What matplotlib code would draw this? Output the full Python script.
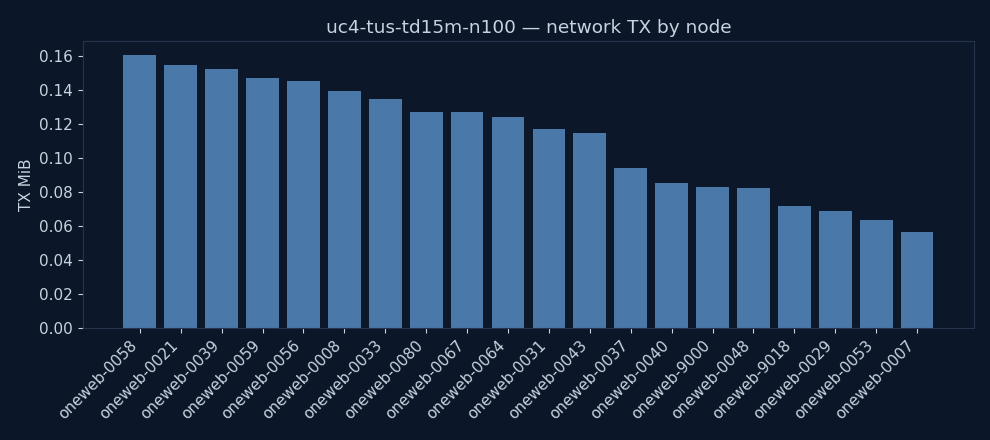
import matplotlib
matplotlib.use('Agg')
import matplotlib.pyplot as plt

nodes = ['oneweb-0058', 'oneweb-0021', 'oneweb-0039', 'oneweb-0059', 'oneweb-0056',
         'oneweb-0008', 'oneweb-0033', 'oneweb-0080', 'oneweb-0067', 'oneweb-0064',
         'oneweb-0031', 'oneweb-0043', 'oneweb-0037', 'oneweb-0040', 'oneweb-9000',
         'oneweb-0048', 'oneweb-9018', 'oneweb-0029', 'oneweb-0053', 'oneweb-0007']
tx_mib = [0.161, 0.155, 0.1527, 0.1474, 0.1457,
          0.1398, 0.135, 0.1274, 0.1274, 0.1244,
          0.1174, 0.115, 0.0944, 0.0855, 0.0832,
          0.0826, 0.0720, 0.0690, 0.0637, 0.0566]

bg = '#0b1628'
text_col = '#c9d2de'
spine_col = '#25344c'

fig, ax = plt.subplots(figsize=(9.9, 4.4), dpi=100)
fig.patch.set_facecolor(bg)
ax.set_facecolor('#0c1729')

x = list(range(len(nodes)))
ax.bar(x, tx_mib, width=0.8, color='#4a78a8')
ax.set_xticks(x)
ax.set_xticklabels(nodes, rotation=45, ha='right')

ax.set_ylabel('TX MiB', color=text_col, fontsize=11)
ax.set_title('uc4-tus-td15m-n100 \u2014 network TX by node', color=text_col, fontsize=13.3)
ax.tick_params(colors=text_col, labelsize=11)
for s in ax.spines.values():
    s.set_color(spine_col)

fig.subplots_adjust(left=0.0838, right=0.9838, top=0.9068, bottom=0.2545)
plt.savefig('out.png', dpi=100, facecolor=bg)
